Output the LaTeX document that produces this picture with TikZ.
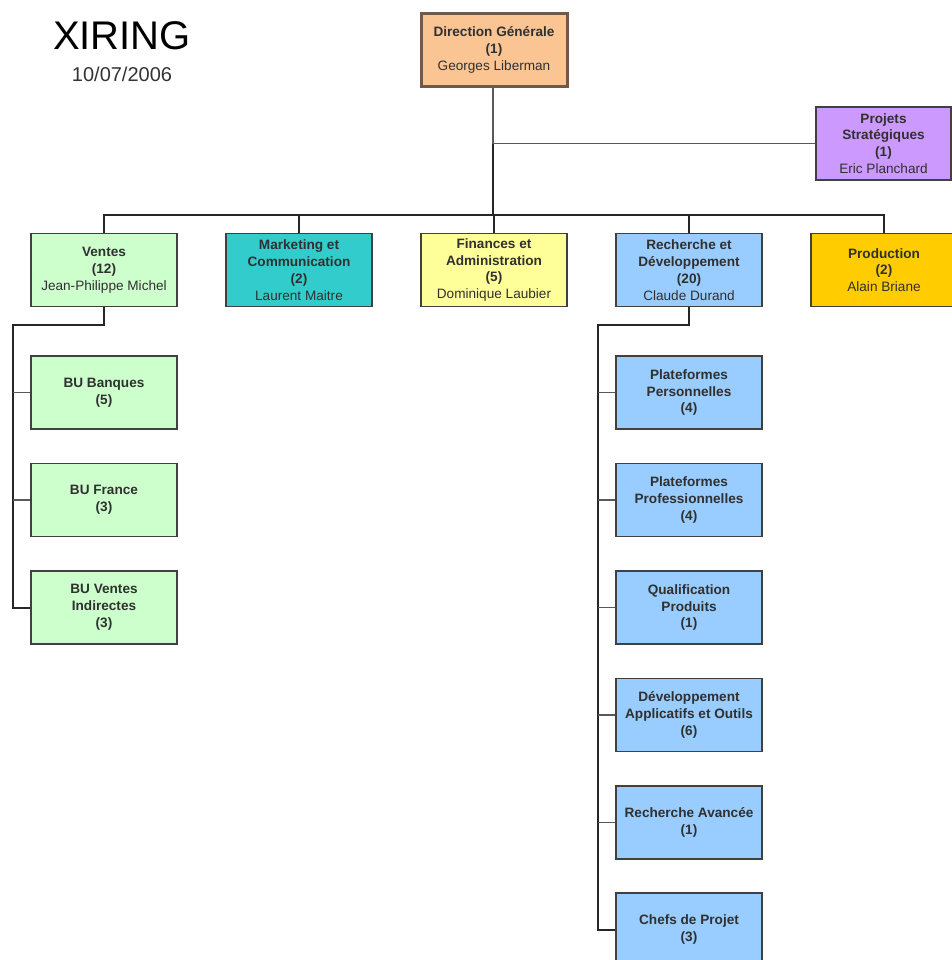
\documentclass[tikz,border=0pt]{standalone}
\usepackage{fontspec}
\setmainfont{Liberation Sans}
\usepackage{tikz}
\usetikzlibrary{positioning}

\definecolor{dgfill}{HTML}{FBC593}
\definecolor{dgline}{HTML}{735A48}
\definecolor{projfill}{HTML}{CC99FF}
\definecolor{ventfill}{HTML}{CCFFCC}
\definecolor{mktfill}{HTML}{33CCCC}
\definecolor{finfill}{HTML}{FFFF99}
\definecolor{rdfill}{HTML}{99CCFF}
\definecolor{prodfill}{HTML}{FFCC00}
\definecolor{boxline}{HTML}{404040}
\definecolor{boxtext}{HTML}{303030}

\tikzset{
	unit/.style={draw=boxline, line width=1.5pt, minimum width=146pt, minimum height=73pt,
		inner sep=0pt, align=center, text=boxtext, font=\fontsize{13.6}{16.8}\selectfont},
	link/.style={draw=black!85, line width=2pt},
	twig/.style={draw=black!65, line width=1.4pt}
}

\begin{document}
\begin{tikzpicture}[x=1pt,y=-1pt]
	%\draw[step=50pt,color=gray] (0,0) grid (951,960);
	\useasboundingbox (0,0) rectangle (951,960);
	\node[font=\fontsize{40}{44}\selectfont] (titre) at (122,36) {XIRING};
	\node[font=\fontsize{20}{22}\selectfont, text=black!80] (date) at (122,74) {10/07/2006};

	% direction
	\node[unit, fill=dgfill, draw=dgline, line width=3pt] (dg) at (494,50)
		{\textbf{Direction Générale}\\\textbf{(1)}\\Georges Liberman};
	\node[unit, fill=projfill, minimum width=135pt] (proj) at (883.5,143.5)
		{\textbf{Projets}\\\textbf{Stratégiques}\\\textbf{(1)}\\Eric Planchard};

	% second level
	\node[unit, fill=ventfill] (ventes) at (104,270) {\textbf{Ventes}\\\textbf{(12)}\\Jean-Philippe Michel};
	\node[unit, fill=mktfill] (mkt) at (299,270) {\textbf{Marketing et}\\\textbf{Communication}\\\textbf{(2)}\\Laurent Maitre};
	\node[unit, fill=finfill] (fin) at (494,270) {\textbf{Finances et}\\\textbf{Administration}\\\textbf{(5)}\\Dominique Laubier};
	\node[unit, fill=rdfill] (rd) at (689,270) {\textbf{Recherche et}\\\textbf{Développement}\\\textbf{(20)}\\Claude Durand};
	\node[unit, fill=prodfill] (prod) at (884,270) {\textbf{Production}\\\textbf{(2)}\\Alain Briane};

	% ventes
	\node[unit, fill=ventfill] (bu1) at (104,392.5) {\textbf{BU Banques}\\\textbf{(5)}};
	\node[unit, fill=ventfill] (bu2) at (104,500) {\textbf{BU France}\\\textbf{(3)}};
	\node[unit, fill=ventfill] (bu3) at (104,607.5) {\textbf{BU Ventes}\\\textbf{Indirectes}\\\textbf{(3)}};

	% recherche
	\node[unit, fill=rdfill] (rd1) at (689,392.5) {\textbf{Plateformes}\\\textbf{Personnelles}\\\textbf{(4)}};
	\node[unit, fill=rdfill] (rd2) at (689,500) {\textbf{Plateformes}\\\textbf{Professionnelles}\\\textbf{(4)}};
	\node[unit, fill=rdfill] (rd3) at (689,607.5) {\textbf{Qualification}\\\textbf{Produits}\\\textbf{(1)}};
	\node[unit, fill=rdfill] (rd4) at (689,715) {\textbf{Développement}\\\textbf{Applicatifs et Outils}\\\textbf{(6)}};
	\node[unit, fill=rdfill] (rd5) at (689,822.5) {\textbf{Recherche Avancée}\\\textbf{(1)}};
	\node[unit, fill=rdfill] (rd6) at (689,929.5) {\textbf{Chefs de Projet}\\\textbf{(3)}};

	\coordinate (bus) at (493,215);
	\coordinate (vspine) at (13,325);
	\coordinate (rspine) at (598,325);

	\draw[link] (dg.south -| bus) -- (bus);
	\draw[twig] (dg.south -| bus) |- (proj.west);
	\foreach \u in {ventes,mkt,fin,rd,prod}
		\draw[link] (\u.north) |- (bus);

	\draw[link] (ventes.south) |- (vspine) |- (bu3.west);
	\foreach \u in {bu1,bu2}
		\draw[twig] (vspine |- \u.west) -- (\u.west);

	\draw[link] (rd.south) |- (rspine) |- (rd6.west);
	\foreach \u in {rd1,rd2,rd3,rd4,rd5}
		\draw[twig] (rspine |- \u.west) -- (\u.west);
\end{tikzpicture}
\end{document}
